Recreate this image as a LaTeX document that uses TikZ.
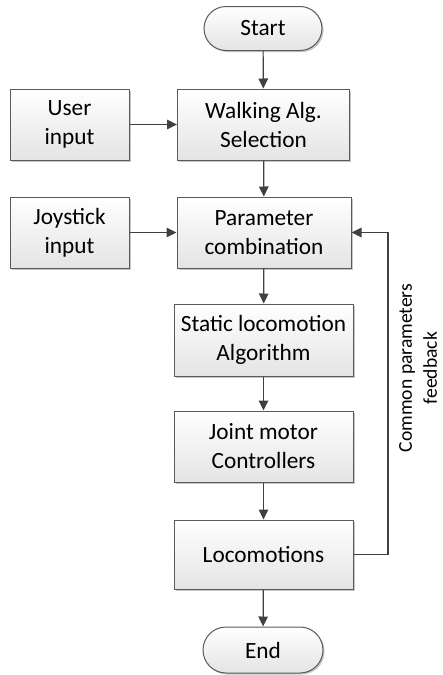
\documentclass[tikz,border=0pt]{standalone}
\usepackage{fontspec}
\setmainfont{Carlito}
\usetikzlibrary{shapes.misc,shadows,arrows.meta}
\definecolor{boxline}{HTML}{5A5A5A}
\definecolor{boxfill}{HTML}{E4E4E4}
\definecolor{arrowline}{HTML}{404040}
\begin{document}
\begin{tikzpicture}[x=1pt,y=-1pt,
  base/.style={draw=boxline, line width=1pt, top color=white, bottom color=boxfill,
    drop shadow={shadow xshift=1.6pt, shadow yshift=-1.6pt, fill=black, opacity=0.22},
    align=center, inner sep=0pt, font=\fontsize{23.3}{29}\selectfont},
  procbox/.style={base, rectangle},
  terminal/.style={base, rounded rectangle, minimum width=118pt, minimum height=44pt},
  arr/.style={draw=arrowline, line width=1.2pt, -{Triangle[length=10pt,width=9.5pt]}},
  lbl/.style={font=\fontsize{19.6}{25}\selectfont, align=center}
]
\useasboundingbox (0,0) rectangle (443,675);

% terminals
\node[terminal] (start) at (263,28.5) {Start};
\node[terminal, minimum width=120pt, minimum height=46pt] (end) at (263,650) {End};

% main column
\node[procbox, minimum width=172pt, minimum height=71pt] (walk)  at (263.5,124.5) {Walking Alg.\\Selection};
\node[procbox, minimum width=174pt, minimum height=71pt] (param) at (264,232.5) {Parameter\\combination};
\node[procbox, minimum width=179pt, minimum height=72pt] (stat)  at (263.5,340) {Static locomotion\\Algorithm};
\node[procbox, minimum width=179pt, minimum height=71pt] (joint) at (263.5,446.5) {Joint motor\\Controllers};
\node[procbox, minimum width=179pt, minimum height=69pt] (loco)  at (263.5,554.5) {Locomotions};

% side inputs
\node[procbox, minimum width=119pt, minimum height=71pt] (user) at (69.5,124.5) {User\\input};
\node[procbox, minimum width=119pt, minimum height=71pt] (joy)  at (69.5,232.5) {Joystick\\input};

% flow
\draw[arr] (start) -- (walk);
\draw[arr] (walk) -- (param);
\draw[arr] (param) -- (stat);
\draw[arr] (stat) -- (joint);
\draw[arr] (joint) -- (loco);
\draw[arr] (loco) -- (end);
\draw[arr] (user) -- (walk);
\draw[arr] (joy) -- (param);

% feedback loop
\coordinate (fbturn) at (388,554.5);
\draw[arr] (loco.east) -- (fbturn) |- (param.east);
\node[lbl, rotate=90] (fblabel) at (418,368) {Common parameters\\feedback};
\end{tikzpicture}
\end{document}
